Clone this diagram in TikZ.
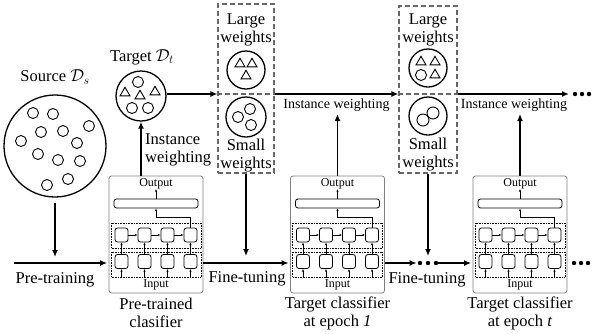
\documentclass[tikz,border=0pt]{standalone}
\usepackage{fontspec}
\setmainfont{Liberation Serif}
\usetikzlibrary{arrows.meta,calc,shapes.geometric}
\newcommand\clfbody[2]{%
\begin{scope}[shift={(#2)}]
\node[sml] (#1out) at (0,-51) {Output};
\node[bar] (#1bar) at (0,-31) {};
\draw[dotrect] (-45,-11.5) rectangle (45,13.5);
\draw[dotrect] (-45,17.5) rectangle (45,42.5);
\foreach \x [count=\i] in {-34.5,-11.5,11.5,34.5} {
  \node[unit] (#1a\i) at (\x,0.5) {};
  \node[unit] (#1b\i) at (\x,27) {};
  \draw[sarr] (#1b\i.north) -- (#1a\i.south);
  \draw[sarr] (\x,43.5) -- (#1b\i.south);
}
\foreach \i/\j in {1/2,2/3,3/4} \draw[sarr] (#1a\i.east) -- (#1a\j.west);
\draw[sarr] (#1a4.north) -- (34.5,-17.5) -- (0,-17.5) -- (#1bar.south);
\draw[sarr] (#1bar.north) -- (#1out.south);
\node[sml] (#1in) at (0,50.5) {Input};
\end{scope}}
\begin{document}
\begin{tikzpicture}[x=1pt,y=-1pt,
  arr/.style={line width=1.4pt,-{Latex[length=7pt,width=6pt]}},
  sarr/.style={line width=0.6pt,-{Latex[length=2.6pt,width=2.2pt]}},
  big/.style={font=\fontsize{16.5}{18}\selectfont,align=center,inner sep=0pt},
  mid/.style={font=\fontsize{14}{16}\selectfont,inner sep=0pt},
  sml/.style={font=\fontsize{12}{13}\selectfont,inner sep=0pt},
  ring/.style={circle,draw,line width=1.3pt,inner sep=0pt},
  dot/.style={circle,draw,line width=0.9pt,minimum size=11pt,inner sep=0pt},
  tri/.style={regular polygon,regular polygon sides=3,draw,line width=0.9pt,minimum size=11.5pt,inner sep=0pt},
  dbox/.style={draw=black!60,line width=1.1pt,dash pattern=on 5pt off 3pt,inner sep=0pt},
  cbox/.style={draw=black!50,line width=0.8pt,rounded corners=2.5pt,minimum width=94pt,minimum height=117pt,inner sep=0pt},
  unit/.style={draw,line width=0.8pt,rounded corners=2.5pt,minimum width=13pt,minimum height=14pt,inner sep=0pt},
  bar/.style={draw,line width=0.8pt,rounded corners=2.5pt,minimum width=84pt,minimum height=9pt,inner sep=0pt},
  dotrect/.style={draw,line width=0.6pt,densely dotted},
  bigdot/.style={circle,fill,inner sep=0pt,minimum size=4.4pt}
]
\useasboundingbox (0,0) rectangle (592,333);
\coordinate (mainy) at (0,263);
\coordinate (divy) at (0,94);
\coordinate (vtip) at (0,256);
\coordinate (iwtip) at (0,114);
% source
\node[big] (srclbl) at (55,77) {Source $\mathcal{D}_s$};
\node[ring,minimum size=102pt] (src) at (55,146) {};
\foreach \p [count=\k] in {(33,113),(53,114),(89,126),(41,132),(63,131),(21,141),(77,143),(38,154),(58,160),(80,161),(68,179),(47,185)}
  \node[dot] (s\k) at \p {};
\coordinate (s1a) at (55,203);
\coordinate (s1b) at (55,257);
\draw[arr] (s1a) -- (s1b);
\coordinate (p0) at (14,263);
% target
\node[big] (tlbl) at (142,57) {Target $\mathcal{D}_t$};
\node[ring,minimum size=50pt] (target) at (141,96) {};
\node[tri] (tt1) at (125,93) {};
\node[tri] (tt2) at (140,96) {};
\node[tri] (tt3) at (155,92) {};
\node[dot] (tc1) at (138,82) {};
\node[dot] (tc2) at (132,108) {};
\node[dot] (tc3) at (148,108) {};
% classifiers
\node[cbox] (clf1) at (156,234.5) {};
\node[cbox] (clf2) at (337.5,234.5) {};
\node[cbox] (clf3) at (520,234.5) {};
\clfbody{k1}{156,234.5}
\clfbody{k2}{337.5,234.5}
\clfbody{k3}{520,234.5}
\node[big] (c1l) at (156,313) {Pre-trained\\clasifier};
\node[big] (c2l) at (337.5,313) {Target classifier\\at epoch \textit{1}};
\node[big] (c3l) at (520,313) {Target classifier\\at epoch \textit{t}};
% dashed boxes
\node[dbox,minimum width=56pt,minimum height=169pt] (dw1) at (246,88.5) {};
\draw[dbox] (dw1.west |- divy) -- (dw1.east |- divy);
\node[big] (lw1) at (246,29.5) {Large\\weights};
\node[ring,minimum size=38pt] (lc1) at (246,70) {};
\node[tri] (l1t1) at (240,64) {};
\node[tri] (l1t2) at (252,64) {};
\node[tri] (l1t3) at (246,76) {};
\node[ring,minimum size=40pt] (sc1) at (246,117) {};
\node[dot] (s1c1) at (250,109) {};
\node[dot] (s1c2) at (238,117) {};
\node[dot] (s1c3) at (251,125) {};
\node[big] (sw1) at (246,156) {Small\\weights};
\node[dbox,minimum width=58pt,minimum height=167pt] (dw2) at (428,89.5) {};
\draw[dbox] (dw2.west |- divy) -- (dw2.east |- divy);
\node[big] (lw2) at (428,29.5) {Large\\weights};
\node[ring,minimum size=38pt] (lc2) at (428,68) {};
\node[tri] (l2t1) at (421,62) {};
\node[tri] (l2t2) at (435,62) {};
\node[tri] (l2t3) at (435,75) {};
\node[dot] (l2c1) at (421,75) {};
\node[ring,minimum size=38pt] (sc2) at (428,116) {};
\node[dot,minimum size=12pt] (s2c1) at (423,120) {};
\node[dot,minimum size=12pt] (s2c2) at (433,113) {};
\node[big] (sw2) at (428,155) {Small\\weights};
% main line
\draw[arr,shorten >=1.5pt] (p0) -- (p0 -| clf1.west);
\node[big] (ptl) at (55,280) {Pre-training};
\draw[arr,shorten >=1.5pt] (clf1.east |- mainy) -- (clf2.west |- mainy);
\node[big] (ft1) at (247,279) {Fine-tuning};
\node[bigdot] (d1) at (420,263) {};
\node[bigdot] (d2) at (428,263) {};
\node[bigdot] (d3) at (436,263) {};
\draw[arr,shorten >=1pt] (clf2.east |- mainy) -- (d1.west);
\draw[arr,shorten >=1.5pt] (d3.east) -- (clf3.west |- mainy);
\node[big] (ft2) at (427,280) {Fine-tuning};
\node[bigdot] (e1) at (574,263) {};
\node[bigdot] (e2) at (581,263) {};
\node[bigdot] (e3) at (588,263) {};
\draw[arr] (dw1.south) -- (dw1.south |- vtip);
\draw[arr] (dw2.south) -- (dw2.south |- vtip);
% top line
\draw[arr] (target.east |- divy) -- (dw1.west |- divy);
\draw[arr] (dw1.east |- divy) -- (dw2.west |- divy);
\coordinate (topend) at (569,94);
\draw[arr] (dw2.east |- divy) -- (topend);
\node[bigdot] (t1) at (575,94) {};
\node[bigdot] (t2) at (582,94) {};
\node[bigdot] (t3) at (589,94) {};
% instance weighting
\draw[arr] (clf1.north -| target.south) -- (target.south);
\node[big,align=left,anchor=west] (iwl1) at (145,150) {Instance\\weighting};
\draw[arr] (clf2.north) -- (clf2.north |- iwtip);
\node[mid] (iwl2) at (336.5,105) {Instance weighting};
\draw[arr] (clf3.north) -- (clf3.north |- iwtip);
\node[mid] (iwl3) at (514,105) {Instance weighting};
\end{tikzpicture}
\end{document}
